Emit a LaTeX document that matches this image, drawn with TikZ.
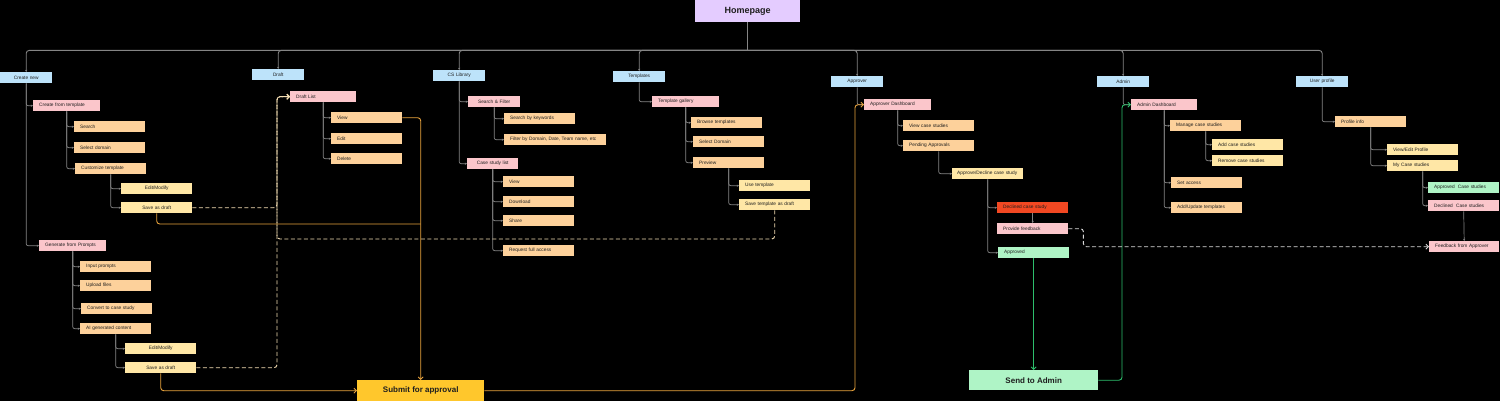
\documentclass[tikz,border=0pt]{standalone}
\usepackage{fontspec}
\setmainfont{Liberation Sans}
\usetikzlibrary{arrows.meta}
\definecolor{sky}{HTML}{BDE3FA}
\definecolor{rose}{HTML}{FBC6CB}
\definecolor{peach}{HTML}{FDD19B}
\definecolor{lemon}{HTML}{FFE7A6}
\definecolor{tomato}{HTML}{F24822}
\definecolor{mint}{HTML}{AFF4C6}
\definecolor{lilac}{HTML}{E4CCFF}
\definecolor{gold}{HTML}{FFC72C}
\definecolor{ink}{HTML}{1E1E1E}
\definecolor{wire}{HTML}{858585}
\definecolor{amber}{HTML}{E8A33D}
\definecolor{cream}{HTML}{F3DDB3}
\definecolor{leaf}{HTML}{2DBE6C}
\definecolor{ash}{HTML}{D9D9D9}
\begin{document}
\begin{tikzpicture}[x=1pt,y=-1pt,
	box/.style={anchor=north west,minimum height=11pt,inner ysep=0pt,inner xsep=6pt,text width=59pt,align=left,text=ink,font=\fontsize{4.8}{5.8}\selectfont},
	task/.style={box,fill=peach},
	subtask/.style={box,fill=lemon},
	page/.style={box,fill=rose,text width=55pt},
	tab/.style={box,fill=sky,text width=52pt,inner xsep=0pt,align=center},
	big/.style={anchor=north west,inner sep=0pt,align=center,text=ink,font=\bfseries\fontsize{8}{9}\selectfont},
	link/.style={draw=wire,line width=0.7pt,rounded corners=2pt,-{Stealth[length=2.2pt,width=2.2pt]}},
	flow/.style={line width=0.9pt,rounded corners=3pt},
	tip/.style={-{Straight Barb[length=2.5pt,width=5pt]}}]
	\fill[black] (0,0) rectangle (1500,401);
	%\draw[step=50,very thin,color=gray] (0,0) grid (1500,401);
	\node[big,fill=lilac,minimum width=105pt,minimum height=22pt,font=\bfseries\fontsize{9}{10}\selectfont] (home) at (695,0) {Homepage};
	\node[tab] (create) at (0,72) {Create new};
	\node[tab] (draft) at (252,69) {Draft};
	\node[tab] (cslib) at (433,70) {CS Library};
	\node[tab] (templ) at (613,71) {Templates};
	\node[tab] (approver) at (831,76) {Approver};
	\node[tab] (admin) at (1097,76) {Admin};
	\node[tab] (profile) at (1296,76) {User profile};
	\path (home.south) ++(0,28) coordinate (bj);
	\draw[draw=wire,line width=0.9pt] (home.south) -- (bj);
	\foreach \t in {create,draft,cslib,templ,approver,admin,profile}
		\draw[link,line width=0.9pt,rounded corners=3pt] (bj) -| (\t.north);
	% create new
	\node[page] (cft) at (33,100) {Create from template};
	\node[task] (search) at (74,121) {Search};
	\node[task] (seldom) at (74,142) {Select domain};
	\node[task] (custom) at (75,163) {Customize template};
	\node[subtask,align=center] (edit1) at (121,183) {Edit/Modify};
	\node[subtask,align=center] (save1) at (121,202) {Save as draft};
	\node[page] (gen) at (39,240) {Generate from Prompts};
	\node[task] (input) at (80,261) {Input prompts};
	\node[task] (upload) at (80,280) {Upload files};
	\node[task] (convert) at (81,303) {Convert to case study};
	\node[task] (aigen) at (80,323) {AI generated content};
	\node[subtask,align=center] (edit2) at (125,343) {Edit/Modify};
	\node[subtask,align=center] (save2) at (125,362) {Save as draft};
	\draw[link] (create.south) |- (cft.west);
	\draw[link] (create.south) |- (gen.west);
	\foreach \n in {search,seldom,custom} \draw[link] (cft.south) |- (\n.west);
	\foreach \n in {edit1,save1} \draw[link] (custom.south) |- (\n.west);
	\foreach \n in {input,upload,convert,aigen} \draw[link] (gen.south) |- (\n.west);
	\foreach \n in {edit2,save2} \draw[link] (aigen.south) |- (\n.west);
	% draft
	\node[page,text width=54pt] (dlist) at (290,91) {Draft List};
	\node[task] (dview) at (331,112) {View};
	\node[task] (dedit) at (331,133) {Edit};
	\node[task] (ddelete) at (331,153) {Delete};
	\foreach \n in {dview,dedit,ddelete} \draw[link] (dlist.south) |- (\n.west);
	% cs library
	\node[page,text width=52pt,inner xsep=0pt,align=center] (sfilter) at (468,96) {Search \& Filter};
	\node[task] (skey) at (504,113) {Search by keywords};
	\node[task,text width=90pt] (sfil) at (504,134) {Filter by Domain, Date, Team name, etc};
	\node[page,text width=51pt,inner xsep=0pt,align=center] (cslist) at (467,158) {Case study list};
	\node[task] (lview) at (503,176) {View};
	\node[task] (ldown) at (503,196) {Download};
	\node[task] (lshare) at (503,215) {Share};
	\node[task] (lreq) at (503,245) {Request full access};
	\draw[link] (cslib.south) |- (sfilter.west);
	\draw[link] (cslib.south) |- (cslist.west);
	\foreach \n in {skey,sfil} \draw[link] (sfilter.south) |- (\n.west);
	\foreach \n in {lview,ldown,lshare,lreq} \draw[link] (cslist.south) |- (\n.west);
	% templates
	\node[page] (tgal) at (652,96) {Template gallery};
	\node[task] (tbrowse) at (691,117) {Browse templates};
	\node[task] (tdomain) at (693,136) {Select Domain};
	\node[task] (tprev) at (693,157) {Preview};
	\node[subtask] (tuse) at (739,180) {Use template};
	\node[subtask] (tsave) at (739,199) {Save template as draft};
	\draw[link] (templ.south) |- (tgal.west);
	\foreach \n in {tbrowse,tdomain,tprev} \draw[link] (tgal.south) |- (\n.west);
	\foreach \n in {tuse,tsave} \draw[link] (tprev.south) |- (\n.west);
	% approver
	\node[page] (adash) at (864,99) {Approver Dashboard};
	\node[task] (aview) at (903,120) {View case studies};
	\node[task] (apend) at (903,140) {Pending Approvals};
	\node[subtask,text width=61pt,inner xsep=5pt] (adecide) at (952,168) {Approve/Decline case study};
	\node[box,fill=tomato] (adecl) at (997,202) {Declined case study};
	\node[box,fill=rose] (afeed) at (997,223) {Provide feedback};
	\node[box,fill=mint] (aok) at (998,247) {Approved};
	\draw[link] (approver.south) |- (adash.west);
	\foreach \n in {aview,apend} \draw[link] (adash.south) |- (\n.west);
	\draw[link] (apend.south) |- (adecide.west);
	\foreach \n in {adecl,aok} \draw[link] (adecide.south) |- (\n.west);
	\draw[link] (adecl.south) -- (afeed.north);
	% admin
	\node[page,text width=54pt] (mdash) at (1131,99) {Admin Dashboard};
	\node[task] (mmanage) at (1170,120) {Manage case studies};
	\node[subtask] (madd) at (1212,139) {Add case studies};
	\node[subtask] (mremove) at (1212,155) {Remove case studies};
	\node[task] (maccess) at (1171,177) {Set access};
	\node[task] (mupdate) at (1171,202) {Add/Update templates};
	\draw[link] (admin.south) |- (mdash.west);
	\foreach \n in {mmanage,maccess,mupdate} \draw[link] (mdash.south) |- (\n.west);
	\foreach \n in {madd,mremove} \draw[link] (mmanage.south) |- (\n.west);
	% user profile
	\node[task] (pinfo) at (1335,116) {Profile info};
	\node[subtask] (pedit) at (1387,144) {View/Edit Profile};
	\node[subtask] (pmine) at (1387,160) {My Case studies};
	\node[box,fill=mint] (pok) at (1428,182) {Approved\ \ Case studies};
	\node[box,fill=rose] (pdecl) at (1428,200) {Declined\ \ Case studies};
	\node[box,fill=rose,text width=58pt] (pfeed) at (1429,241) {Feedback from Approver};
	\draw[link] (profile.south) |- (pinfo.west);
	\foreach \n in {pedit,pmine} \draw[link] (pinfo.south) |- (\n.west);
	\foreach \n in {pok,pdecl} \draw[link] (pmine.south) |- (\n.west);
	\draw[link] (pdecl.south) -- (pfeed.north);
	% big steps
	\node[big,fill=gold,minimum width=127pt,minimum height=21pt] (submit) at (357,380) {Submit for approval};
	\node[big,fill=mint,minimum width=129pt,minimum height=20pt] (send) at (969,370) {Send to Admin};
	% drafts go back to the draft list
	\path (dlist.west) ++(-13,0) coordinate (dj);
	\draw[flow,tip,draw=cream,dash pattern=on 4pt off 2.5pt] (save1.east) -| (dj) -- (dlist.west);
	\draw[flow,tip,draw=cream,dash pattern=on 4pt off 2.5pt] (save2.east) -| (dj) -- (dlist.west);
	\draw[flow,tip,draw=cream,dash pattern=on 4pt off 2.5pt] (tsave.south) |- (dj |- 0,239) -- (dj) -- (dlist.west);
	% submit
	\draw[flow,draw=amber] (save1.south) |- (submit.north |- 0,224);
	\draw[flow,tip,draw=amber] (dview.east) -| (submit.north);
	\draw[flow,tip,draw=amber] (save2.south) |- (submit.west);
	\path (adash.west) ++(-9,0) coordinate (aj);
	\draw[flow,tip,draw=amber] (submit.east) -| (aj) -- (adash.west);
	% approved / declined
	\draw[flow,tip,draw=leaf] (aok.south) -- (send.north);
	\path (mdash.west) ++(-9,0) coordinate (mj);
	\draw[flow,tip,draw=leaf] (send.east) -| (mj) -- (mdash.west);
	\draw[flow,tip,draw=ash,dash pattern=on 4pt off 2.5pt] (afeed.east) -- ++(15,0) |- (pfeed.west);
\end{tikzpicture}
\end{document}
